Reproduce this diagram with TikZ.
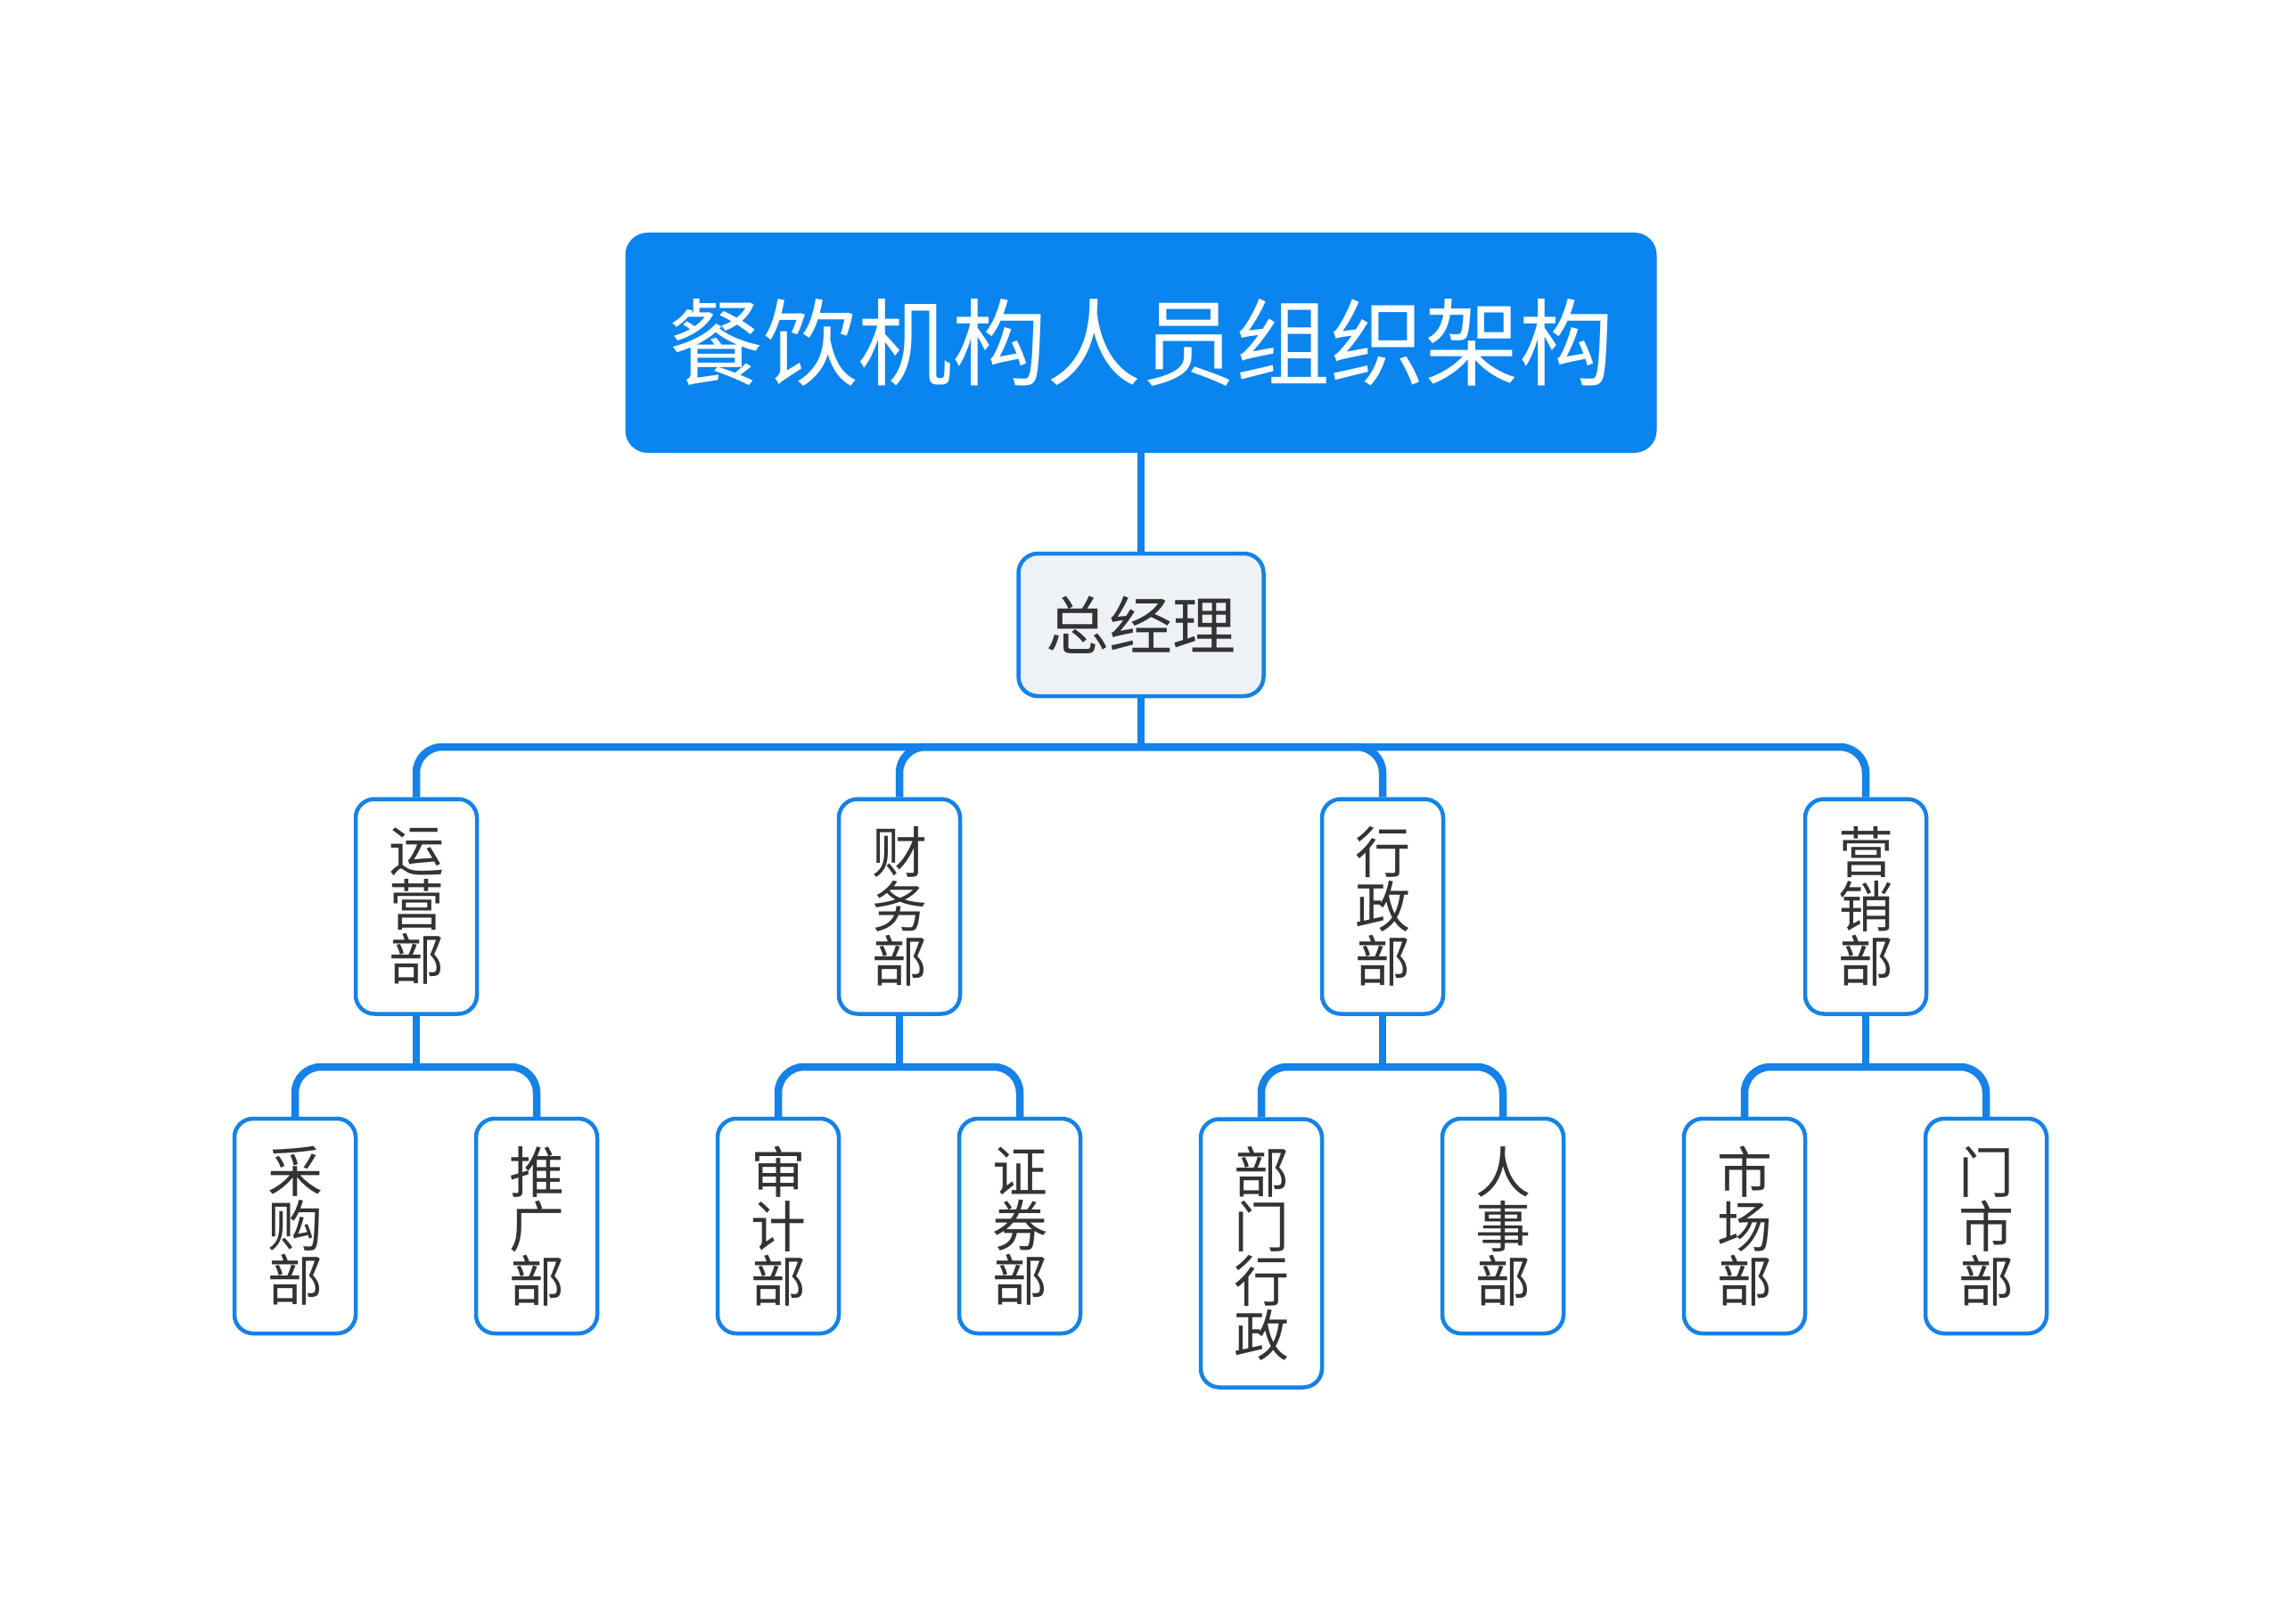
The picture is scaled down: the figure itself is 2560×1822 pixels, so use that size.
\documentclass[tikz,border=0pt]{standalone}
\usepackage{fontspec}
\setmainfont{Noto Sans CJK SC}
\definecolor{titleblue}{HTML}{0A84EE}
\definecolor{lineblue}{HTML}{1482E8}
\definecolor{txtgray}{HTML}{333333}
\definecolor{gmfill}{HTML}{EEF2F6}
\begin{document}
\begin{tikzpicture}[x=1pt,y=-1pt,
  conn/.style={draw=lineblue, line width=8.5pt, rounded corners=29pt},
  dept/.style={draw=lineblue, line width=4.5pt, fill=white, rounded corners=21pt,
    minimum width=136pt, minimum height=241pt, inner sep=0pt, align=center,
    text=txtgray, font=\fontsize{62}{61}\selectfont},
  titlebox/.style={fill=titleblue, rounded corners=25pt, minimum width=1157pt,
    minimum height=247pt, inner sep=0pt, text=white, font=\fontsize{106}{110}\selectfont},
  gmbox/.style={draw=lineblue, line width=4.5pt, fill=gmfill, rounded corners=22pt,
    minimum width=275pt, minimum height=160pt, inner sep=0pt, text=txtgray,
    font=\fontsize{71}{74}\selectfont}
]
\useasboundingbox[fill=white] (0,0) rectangle (2560,1822);

\node[titlebox] (t) at (1280,384.5) {餐饮机构人员组织架构};
\node[gmbox] (g) at (1280,701) {总经理};

\node[dept] (a) at (467,1017) {运\\营\\部};
\node[dept] (b) at (1009,1017) {财\\务\\部};
\node[dept] (c) at (1551,1017) {行\\政\\部};
\node[dept] (d) at (2093,1017) {营\\销\\部};

\node[dept] (a1) at (331,1375.5) {采\\购\\部};
\node[dept] (a2) at (602,1375.5) {推\\广\\部};
\node[dept] (b1) at (873,1375.5) {审\\计\\部};
\node[dept] (b2) at (1144,1375.5) {证\\券\\部};
\node[dept, minimum height=301pt] (c1) at (1415,1406) {部\\门\\行\\政};
\node[dept] (c2) at (1686,1375.5) {人\\事\\部};
\node[dept] (d1) at (1957,1375.5) {市\\场\\部};
\node[dept] (d2) at (2228,1375.5) {门\\市\\部};

\coordinate (jt) at (1280,838);
\coordinate (ja) at (467,1197);
\coordinate (jb) at (1009,1197);
\coordinate (jc) at (1551,1197);
\coordinate (jd) at (2093,1197);

\draw[conn] (t.south) -- (g.north);
\draw[conn] (g.south) -- (jt);
\draw[conn] (a.north) |- (jt) -| (d.north);
\draw[conn] (jt) -| (b.north);
\draw[conn] (jt) -| (c.north);

\draw[conn] (a.south) -- (ja);
\draw[conn] (a1.north) |- (ja) -| (a2.north);
\draw[conn] (b.south) -- (jb);
\draw[conn] (b1.north) |- (jb) -| (b2.north);
\draw[conn] (c.south) -- (jc);
\draw[conn] (c1.north) |- (jc) -| (c2.north);
\draw[conn] (d.south) -- (jd);
\draw[conn] (d1.north) |- (jd) -| (d2.north);
\end{tikzpicture}
\end{document}
